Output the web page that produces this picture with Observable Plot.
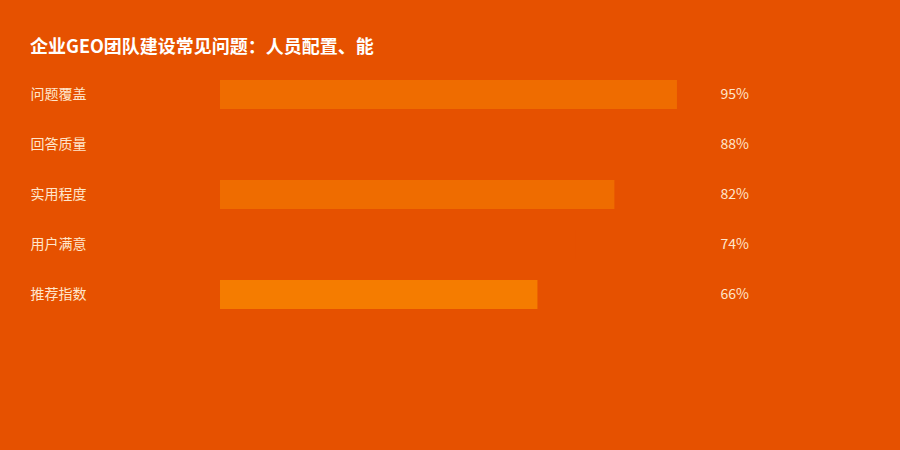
<!DOCTYPE html>
<html>
<head>
<meta charset="utf-8">
<script src="https://cdn.jsdelivr.net/npm/d3@7"></script>
<script src="https://cdn.jsdelivr.net/npm/@observablehq/plot@0.6"></script>
<style>
  html, body { margin: 0; padding: 0; background: #E65100; }
  #wrap { width: 900px; height: 450px; background: #E65100; overflow: hidden;
          font-family: "Noto Sans CJK SC", "Noto Sans", sans-serif; }
  #title { padding: 33px 0 13px 30px; height: 24px; line-height: 24px; font-size: 18px;
           font-weight: bold; color: #ffffff; }
</style>
</head>
<body>
<div id="wrap">
  <div id="title">企业GEO团队建设常见问题：人员配置、能</div>
  <div id="chart"></div>
</div>
<script>
const categories = ["问题覆盖", "回答质量", "实用程度", "用户满意", "推荐指数"];
const values = [95, 88, 82, 74, 66];
const barColors = ["#EF6C00", "#E65100", "#EF6C00", "#E65100", "#F57C00"];

const data = categories.map((c, i) => ({ name: c, value: values[i], color: barColors[i] }));

const chart = Plot.plot({
  width: 900,
  height: 380,
  marginTop: 0, marginBottom: 0, marginLeft: 0, marginRight: 0,
  style: { background: "transparent", fontFamily: "'Noto Sans CJK SC', 'Noto Sans', sans-serif" },
  x: { domain: [0, 100], range: [220, 701], axis: null },
  y: { domain: categories, range: [-0.5, 249.5], paddingInner: 0.42, paddingOuter: 0.21, axis: null },
  marks: [
    Plot.barX(data, { x1: 0, x2: "value", y: "name", fill: d => d.color }),
    Plot.text(data, { y: "name", text: "name", frameAnchor: "left", dx: 30, textAnchor: "start",
                      fill: "#FFE6CC", fontSize: 14 }),
    Plot.text(data, { y: "name", text: d => d.value + "%", frameAnchor: "left", dx: 720, textAnchor: "start",
                      fill: "#FFE6CC", fontSize: 14 })
  ]
});
document.getElementById("chart").appendChild(chart);
</script>
</body>
</html>
